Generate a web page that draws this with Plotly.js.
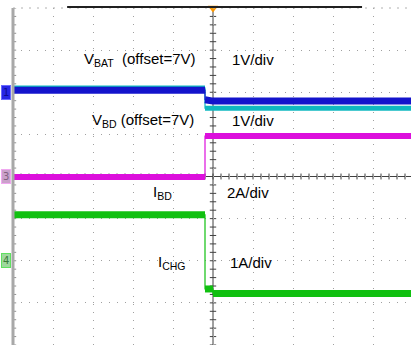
<!DOCTYPE html>
<html>
<head>
<meta charset="utf-8">
<script src="https://cdn.plot.ly/plotly-3.0.1.min.js"></script>
<style>html,body{margin:0;padding:0;overflow:hidden;background:#fff}</style>
</head>
<body>
<div id="chart" style="width:411px;height:345px"></div>
<script>
// Time in divisions (trigger at 0), levels in divisions from screen centre
const ch1Time  = [-5, -0.2, -0.2, 0.0, 4.95];          // VBAT (blue)
const ch1Level = [2.05, 2.05, 1.82, 1.79, 1.79];
const ch2Time  = [-5, -0.2, -0.2, 4.95];               // cyan companion trace
const ch2Level = [2.10, 2.10, 1.62, 1.62];
const ch3Time  = [-5, -0.2, -0.2, 4.95];               // VBD (magenta)
const ch3Level = [-0.01, -0.01, 0.96, 0.96];
const ch4Time  = [-5, -0.2, -0.2, 0.0, 0.0, 4.95];     // ICHG / IBD (green)
const ch4Level = [-0.91, -0.91, -2.67, -2.67, -2.78, -2.78];

const markerNames  = ['1', '3', '4'];
const markerLevels = [2.0, 0.0, -2.0];
const triggerTime  = [0];

const labelTexts = ['V<sub>BAT</sub>  (offset=7V)', '1V/div',
                    'V<sub>BD</sub> (offset=7V)', '1V/div',
                    'I<sub>BD</sub>', '2A/div',
                    'I<sub>CHG</sub>', '1A/div'];
const labelX = [-3.28, 0.42, -3.08, 0.42, -1.55, 0.3, -1.42, 0.37];
const labelY = [2.77, 2.77, 1.34, 1.34, -0.37, -0.37, -2.03, -2.03];

function splitSteps(t, v) {
  const x = [], y = [];
  for (let i = 0; i < t.length; i++) {
    if (i > 0 && t[i] === t[i-1]) { x.push(null); y.push(null); }
    x.push(t[i]); y.push(v[i]);
  }
  return {x, y};
}

function channel(t, v, color, bandWidth) {
  const s = splitSteps(t, v);
  return [
    {x: t, y: v, mode: 'lines', line: {color: color, width: 1.2}, hoverinfo: 'skip'},
    {x: s.x, y: s.y, mode: 'lines', connectgaps: false, line: {color: color, width: bandWidth}, hoverinfo: 'skip'}
  ];
}

const data = [].concat(
  channel(ch2Time, ch2Level, '#10b8c0', 5),
  channel(ch1Time, ch1Level, '#1414cc', 7),
  channel(ch3Time, ch3Level, '#dc10dc', 6),
  channel(ch4Time, ch4Level, '#10c010', 7),
  [{x: triggerTime, y: [4.0], mode: 'markers', cliponaxis: false,
    marker: {symbol: 'triangle-down', size: 9, color: '#ff9900'}, hoverinfo: 'skip'}]
);

const shapes = [];
// centre crosshair
shapes.push({type: 'line', xref: 'x', yref: 'y', x0: -5, x1: 4.95, y0: 0, y1: 0, line: {color: '#404040', width: 1}, layer: 'below'});
shapes.push({type: 'line', xref: 'x', yref: 'y', x0: 0, x1: 0, y0: -4, y1: 4, line: {color: '#404040', width: 1}, layer: 'below'});
for (let k = -25; k <= 25; k++) {
  const xv = k * 0.2;
  shapes.push({type: 'line', xref: 'x', yref: 'y', x0: xv, x1: xv, y0: -0.07, y1: 0.07, line: {color: '#404040', width: 1}, layer: 'below'});
}
for (let k = -20; k <= 20; k++) {
  const yv = k * 0.2;
  shapes.push({type: 'line', xref: 'x', yref: 'y', x0: -0.08, x1: 0.08, y0: yv, y1: yv, line: {color: '#404040', width: 1}, layer: 'below'});
  shapes.push({type: 'line', xref: 'x', yref: 'y', x0: -5, x1: -4.92, y0: yv, y1: yv, line: {color: '#909090', width: 1}, layer: 'below'});
}
// left border
shapes.push({type: 'line', xref: 'paper', yref: 'paper', x0: 0, x1: 0, y0: 0, y1: 1, line: {color: '#a8a8a8', width: 3}});
// top border: light dotted + dark record bar
shapes.push({type: 'line', xref: 'paper', yref: 'paper', x0: 0, x1: 1, y0: 1, y1: 1, line: {color: '#b0b0b0', width: 1, dash: '2px,6px'}});
shapes.push({type: 'line', xref: 'paper', yref: 'paper', x0: 0.136, x1: 0.877, y0: 1.003, y1: 1.003, line: {color: '#202020', width: 2}});

const annotations = labelTexts.map((t, i) => ({
  x: labelX[i], y: labelY[i], xref: 'x', yref: 'y', text: t, showarrow: false,
  xanchor: 'left', yanchor: 'middle', font: {family: 'Liberation Sans, Arial, sans-serif', size: 15, color: '#000'}
}));
const mColors = [['#2626e6', '#6a6aff', '#0c0c90'], ['#caa2ca', '#f0a8f0', '#806080'], ['#9ed89e', '#60e060', '#3a7a3a']];
markerNames.forEach((n, i) => {
  annotations.push({x: -0.018, y: markerLevels[i], xref: 'paper', yref: 'y', text: n, showarrow: false,
    xanchor: 'center', yanchor: 'middle', bgcolor: mColors[i][0], bordercolor: mColors[i][1], borderwidth: 1, borderpad: 1,
    font: {family: 'DejaVu Sans, sans-serif', size: 10, color: mColors[i][2]}});
});

const layout = {
  width: 411, height: 345,
  margin: {l: 13, r: 0, t: 8, b: 0},
  paper_bgcolor: '#ffffff', plot_bgcolor: '#ffffff',
  showlegend: false,
  xaxis: {range: [-5, 4.95], tick0: 0, dtick: 1, showgrid: true, gridcolor: '#a0a0a0', griddash: '1px,7px', gridwidth: 1,
          zeroline: false, showticklabels: false, ticks: '', showline: false, fixedrange: true},
  yaxis: {range: [-4, 4], tick0: 0, dtick: 1, showgrid: true, gridcolor: '#a0a0a0', griddash: '1px,7px', gridwidth: 1,
          zeroline: false, showticklabels: false, ticks: '', showline: false, fixedrange: true},
  shapes: shapes,
  annotations: annotations
};

Plotly.newPlot('chart', data, layout, {displayModeBar: false, staticPlot: true});
</script>
</body>
</html>
